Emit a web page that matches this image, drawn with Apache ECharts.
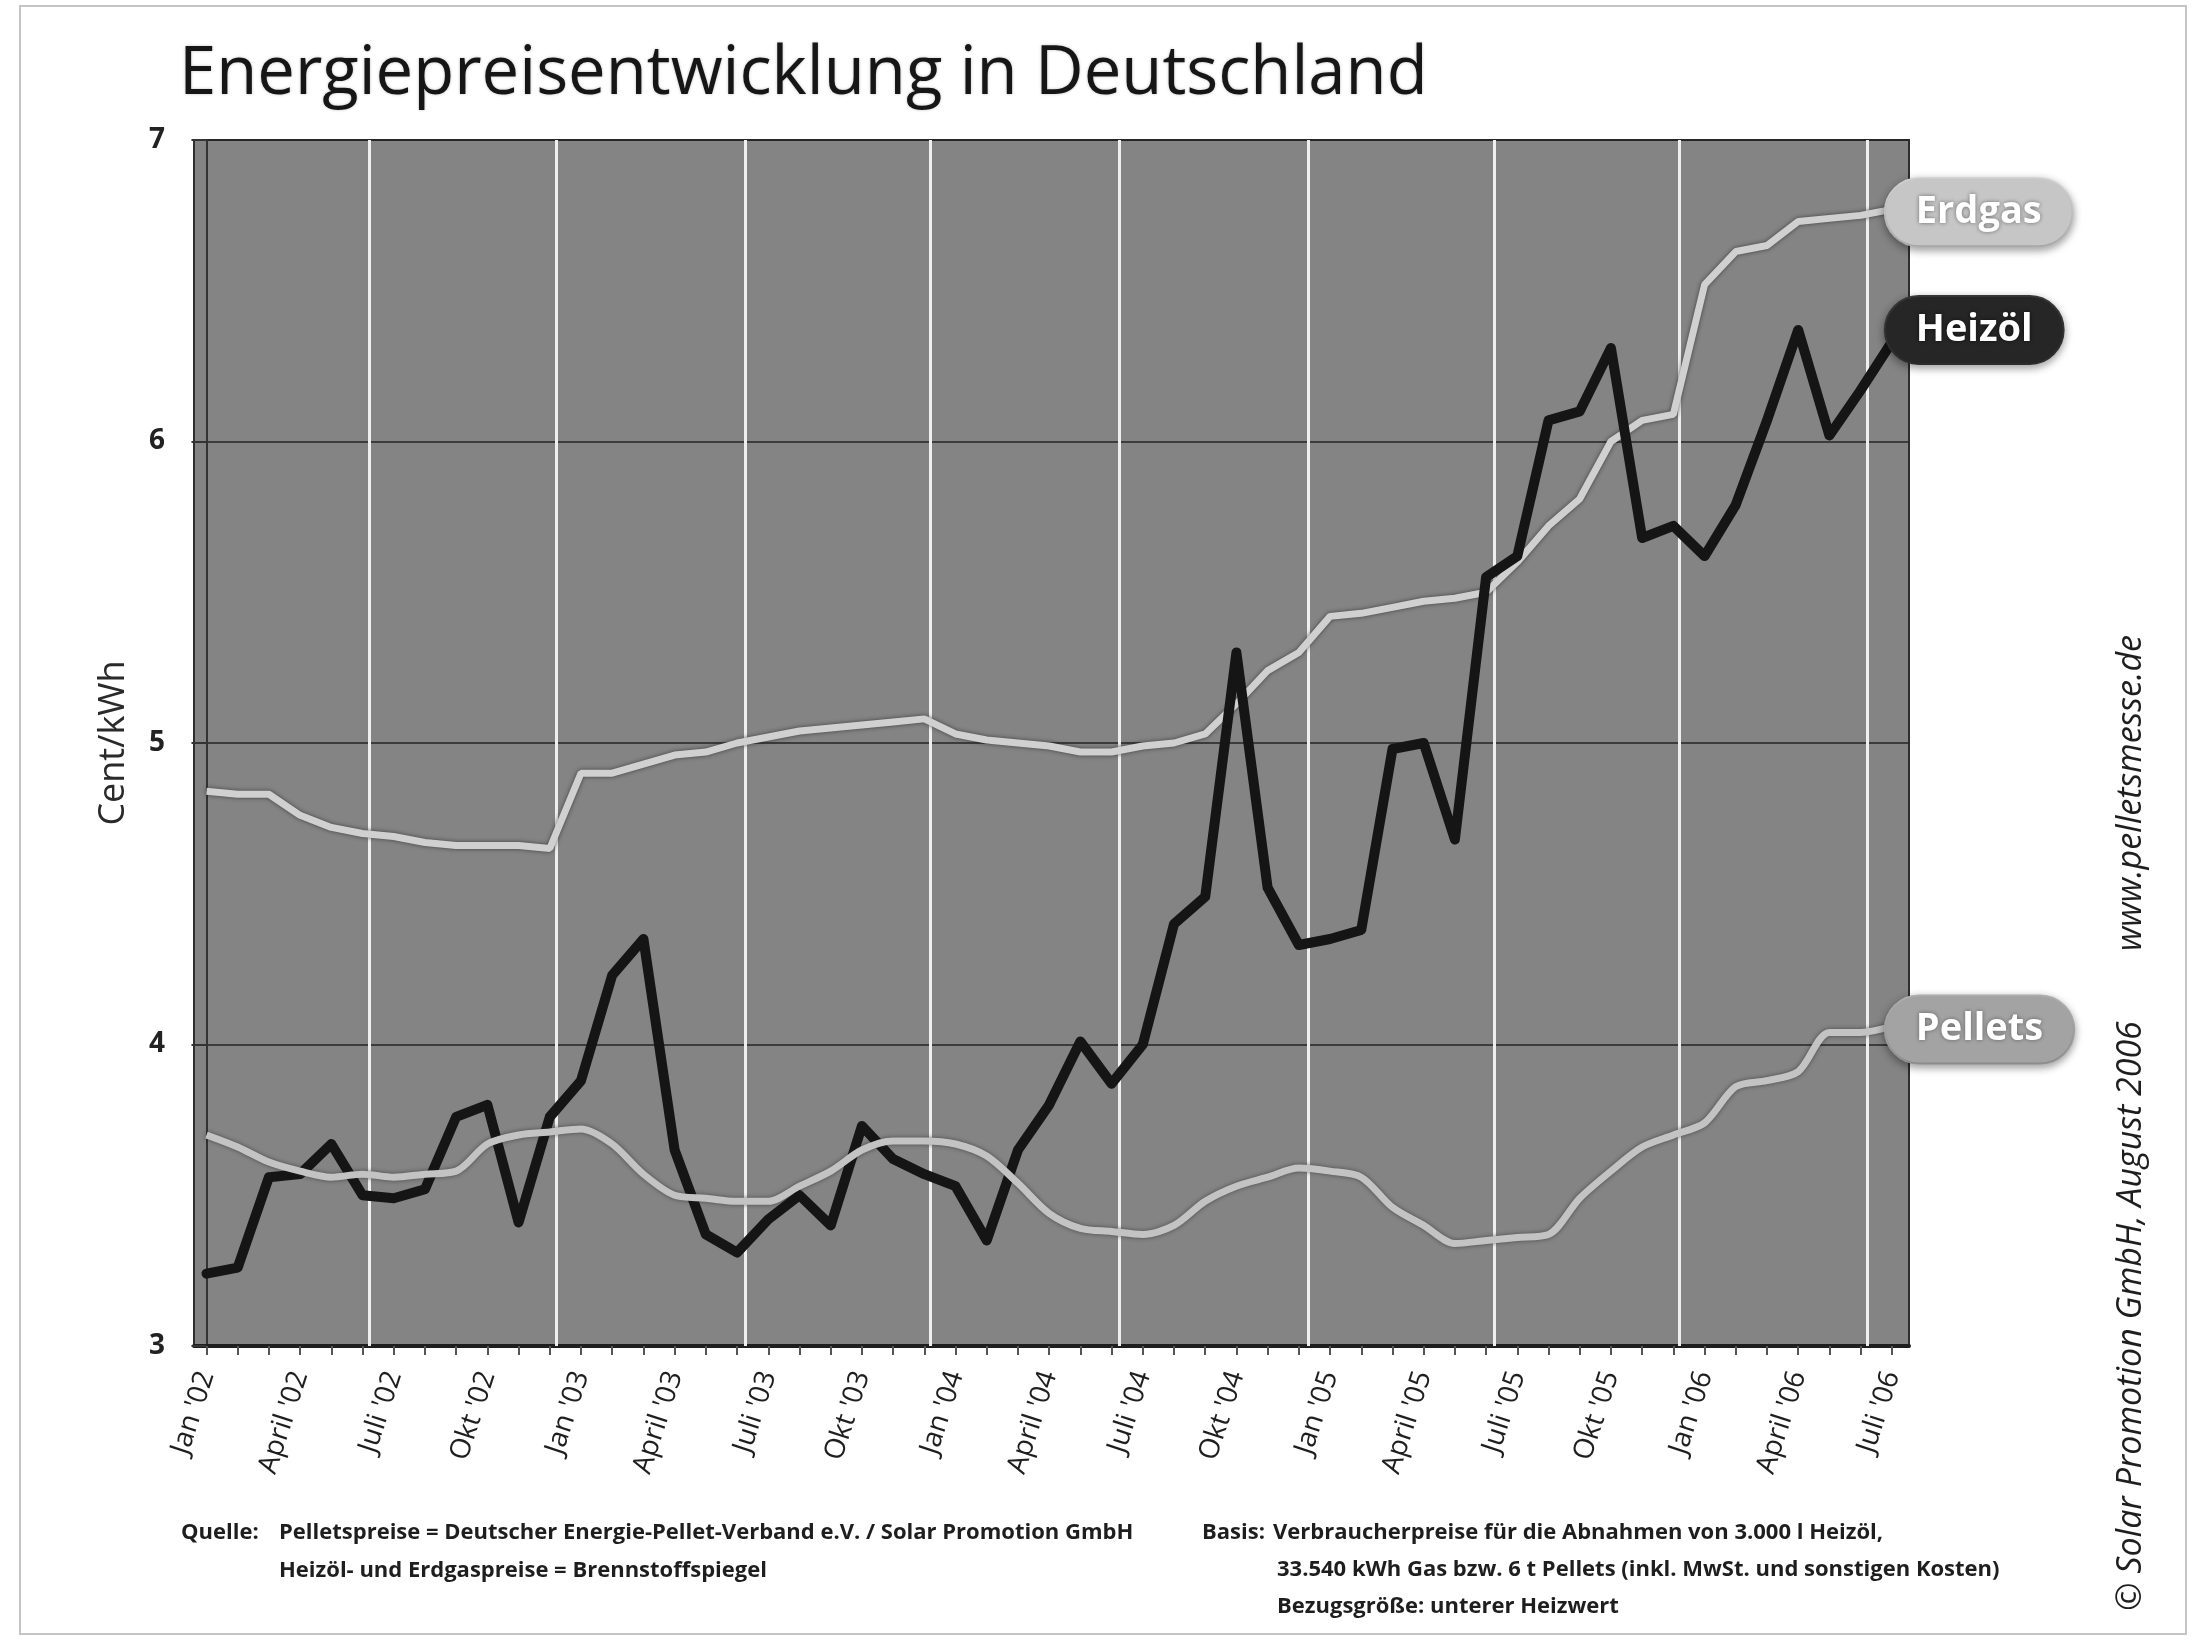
<!DOCTYPE html>
<html><head><meta charset="utf-8">
<script src="https://cdn.jsdelivr.net/npm/echarts@6/dist/echarts.min.js"></script>
<style>html,body{margin:0;padding:0;background:#fff}#c{width:2199px;height:1642px}</style>
</head><body><div id="c"></div>
<script>
// Month index 0 = Jan '02 ... 54 = Juli '06
const tickLabels = ["Jan '02","April '02","Juli '02","Okt '02","Jan '03","April '03","Juli '03","Okt '03","Jan '04","April '04","Juli '04","Okt '04","Jan '05","April '05","Juli '05","Okt '05","Jan '06","April '06","Juli '06"];
const heizoel = [3.24,3.26,3.56,3.57,3.67,3.50,3.49,3.52,3.76,3.80,
  3.41,3.76,3.88,4.23,4.35,3.65,3.37,3.31,3.42,3.50,
  3.40,3.73,3.62,3.57,3.53,3.35,3.65,3.80,4.01,3.87,
  4.00,4.40,4.49,5.30,4.52,4.33,4.35,4.38,4.98,5.00,
  4.68,5.55,5.62,6.07,6.10,6.31,5.68,5.72,5.62,5.79,
  6.07,6.37,6.02,6.17,6.33];
const erdgas = [4.84,4.83,4.83,4.76,4.72,4.70,4.69,4.67,4.66,4.66,
  4.66,4.65,4.90,4.90,4.93,4.96,4.97,5.00,5.02,5.04,
  5.05,5.06,5.07,5.08,5.03,5.01,5.00,4.99,4.97,4.97,
  4.99,5.00,5.03,5.13,5.24,5.30,5.42,5.43,5.45,5.47,
  5.48,5.50,5.60,5.72,5.81,6.00,6.07,6.09,6.52,6.63,
  6.65,6.73,6.74,6.75,6.77];
const pellets = [3.70,3.66,3.61,3.58,3.56,3.57,3.56,3.57,3.58,3.67,
  3.70,3.71,3.72,3.67,3.57,3.50,3.49,3.48,3.48,3.53,
  3.58,3.65,3.68,3.68,3.67,3.63,3.54,3.44,3.39,3.38,
  3.37,3.40,3.48,3.53,3.56,3.59,3.58,3.56,3.46,3.40,
  3.34,3.35,3.36,3.37,3.49,3.58,3.66,3.70,3.74,3.86,
  3.88,3.91,4.04,4.04,4.06];
// white half-year grid lines (month-index positions)
const halfYearLineAt = [5.2,11.2,17.25,23.2,29.25,35.3,41.25,47.2,53.2];

const monthIdx = heizoel.map((_, i) => i);
const labelIdx = tickLabels.map((_, k) => k * 3);
const toXY = arr => arr.map((v, i) => [i, v]);

const chart = echarts.init(document.getElementById('c'), null, {renderer: 'canvas'});

function pill(bg, border, shadowTxt, offY) {
  return {
    show: true, formatter: '{a}', color: '#ffffff', fontSize: 38, fontWeight: 'bold',
    fontFamily: 'Open Sans', backgroundColor: bg, borderColor: border, borderWidth: 2,
    borderRadius: 34, padding: [12, 30, 12, 30], lineHeight: 42, distance: 0,
    offset: [-6, offY], textShadowColor: shadowTxt, textShadowBlur: 4,
    shadowColor: 'rgba(0,0,0,0.35)', shadowBlur: 8, shadowOffsetY: 3
  };
}

const noteFont = 'bold 22px "Open Sans"';
const sideFont = 'italic 34px "Open Sans"';

const option = {
  animation: false,
  backgroundColor: '#ffffff',
  title: {
    text: 'Energiepreisentwicklung in Deutschland', left: 174, top: 36,
    textStyle: {fontSize: 67, fontWeight: 500, fontFamily: 'Open Sans', color: '#161616',
      textShadowColor: 'rgba(0,0,0,0.25)', textShadowBlur: 3}
  },
  grid: {left: 194, right: 290, top: 140, bottom: 296, show: true,
    backgroundColor: '#848484', borderColor: '#2e2e2e', borderWidth: 2},
  xAxis: {
    type: 'value', min: -0.4, max: 54.55,
    axisLine: {show: true, onZero: false, lineStyle: {color: '#1e1e1e', width: 4}},
    axisTick: {show: true, customValues: monthIdx, length: 9, lineStyle: {color: '#555', width: 2}},
    axisLabel: {customValues: labelIdx, formatter: v => tickLabels[Math.round(v / 3)] || '',
      rotate: 72, fontSize: 28, color: '#1e1e1e', margin: 26, fontFamily: 'Open Sans'},
    splitLine: {show: false}
  },
  yAxis: {
    type: 'value', min: 3, max: 7, interval: 1,
    name: 'Cent/kWh', nameLocation: 'middle', nameGap: 62, nameRotate: 90,
    nameTextStyle: {fontSize: 36, color: '#2a2a2a', fontFamily: 'Open Sans'},
    axisLine: {show: true, lineStyle: {color: '#333', width: 2}},
    axisTick: {show: true, length: 15, lineStyle: {color: '#333', width: 2}},
    axisLabel: {fontSize: 28, fontWeight: 'bold', color: '#222', margin: 29, fontFamily: 'Open Sans'},
    splitLine: {show: true, lineStyle: {color: '#252525', width: 1.5}}
  },
  series: [
    {
      name: 'Erdgas', type: 'line', data: toXY(erdgas), symbol: 'none', z: 3,
      lineStyle: {color: '#d0d0d0', width: 7, shadowColor: 'rgba(30,30,30,0.7)', shadowBlur: 4},
      endLabel: pill('#c6c6c6', '#dcdcdc', 'rgba(0,0,0,0.45)', 3),
      markLine: {silent: true, symbol: 'none', z: 1, label: {show: false},
        lineStyle: {color: '#efefef', width: 3, type: 'solid'},
        data: halfYearLineAt.map(x => ({xAxis: x}))}
    },
    {
      name: 'Heizöl', type: 'line', data: toXY(heizoel), symbol: 'none', z: 4,
      lineStyle: {color: '#151515', width: 10, join: 'round', cap: 'round'},
      endLabel: pill('#262626', '#3a3a3a', 'rgba(0,0,0,0.6)', -12)
    },
    {
      name: 'Pellets', type: 'line', data: toXY(pellets), symbol: 'none', z: 5, smooth: 0.3,
      lineStyle: {color: '#c3c3c3', width: 7, shadowColor: 'rgba(30,30,30,0.6)', shadowBlur: 4},
      endLabel: pill('#a3a3a3', '#b8b8b8', 'rgba(0,0,0,0.4)', 3)
    }
  ],
  graphic: [
    {type: 'rect', z: -10, shape: {x: 20, y: 6, width: 2166, height: 1628},
      style: {fill: 'none', stroke: '#c4c4c4', lineWidth: 2}},
    {type: 'text', x: 181, y: 1533, style: {text: 'Quelle:', fill: '#1e1e1e', font: noteFont, verticalAlign: 'middle'}},
    {type: 'text', x: 279, y: 1533, style: {text: 'Pelletspreise = Deutscher Energie-Pellet-Verband e.V. / Solar Promotion GmbH', fill: '#1e1e1e', font: noteFont, verticalAlign: 'middle'}},
    {type: 'text', x: 279, y: 1571, style: {text: 'Heizöl- und Erdgaspreise = Brennstoffspiegel', fill: '#1e1e1e', font: noteFont, verticalAlign: 'middle'}},
    {type: 'text', x: 1202, y: 1533, style: {text: 'Basis:', fill: '#1e1e1e', font: noteFont, verticalAlign: 'middle'}},
    {type: 'text', x: 1273, y: 1533, style: {text: 'Verbraucherpreise für die Abnahmen von 3.000 l Heizöl,', fill: '#1e1e1e', font: noteFont, verticalAlign: 'middle'}},
    {type: 'text', x: 1277, y: 1570, style: {text: '33.540 kWh Gas bzw. 6 t Pellets (inkl. MwSt. und sonstigen Kosten)', fill: '#1e1e1e', font: noteFont, verticalAlign: 'middle'}},
    {type: 'text', x: 1277, y: 1607, style: {text: 'Bezugsgröße: unterer Heizwert', fill: '#1e1e1e', font: noteFont, verticalAlign: 'middle'}},
    {type: 'text', x: 2131, y: 793, rotation: Math.PI / 2, style: {text: 'www.pelletsmesse.de', fill: '#1e1e1e', font: sideFont, align: 'center', verticalAlign: 'middle'}},
    {type: 'text', x: 2131, y: 1316, rotation: Math.PI / 2, style: {text: '© Solar Promotion GmbH, August 2006', fill: '#1e1e1e', font: sideFont, align: 'center', verticalAlign: 'middle'}}
  ]
};
chart.setOption(option);
</script>
</body></html>
